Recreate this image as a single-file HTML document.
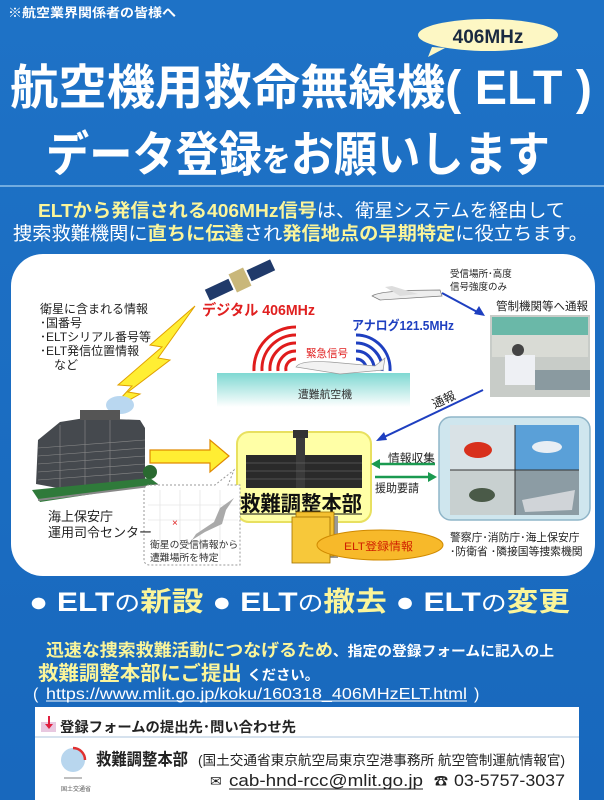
<!DOCTYPE html>
<html><head><meta charset="utf-8"><style>
html,body{margin:0;padding:0;width:604px;height:800px;overflow:hidden;background:#1b6dc1;}
svg{display:block}
text{font-family:"Liberation Sans","Noto Sans CJK JP",sans-serif;}
</style></head><body>
<svg width="604" height="800" viewBox="0 0 604 800" xmlns="http://www.w3.org/2000/svg">
<defs>
<linearGradient id="sea" x1="0" y1="0" x2="0" y2="1"><stop offset="0" stop-color="#7fd8d2"/><stop offset="1" stop-color="#ffffff"/></linearGradient>
<linearGradient id="bg" x1="0" y1="0" x2="0" y2="1"><stop offset="0" stop-color="#1e72c6"/><stop offset="1" stop-color="#1868bd"/></linearGradient>
</defs>
<rect width="604" height="800" fill="url(#bg)"/>
<!-- header -->
<text x="8" y="17" font-size="12.5" font-weight="bold" fill="#fff" textLength="168" lengthAdjust="spacingAndGlyphs">※航空業界関係者の皆様へ</text>
<path d="M432 47 L428 57 L445 48 Z" fill="#fdf7c4"/>
<ellipse cx="488" cy="35" rx="70" ry="16" fill="#fdf7c4"/>
<text x="488" y="43" font-size="19" font-weight="bold" fill="#1a2a40" text-anchor="middle">406MHz</text>
<text x="10" y="104" font-size="48" font-weight="bold" fill="#fff" textLength="582" lengthAdjust="spacingAndGlyphs">航空機用救命無線機( ELT )</text>
<text x="46" y="171" font-size="48" font-weight="bold" fill="#fff" textLength="504" lengthAdjust="spacingAndGlyphs">データ登録<tspan font-size="32">を</tspan>お願いします</text>
<line x1="0" y1="186" x2="604" y2="186" stroke="#8fc0ea" stroke-width="1.5"/>
<text x="38" y="217" font-size="18.5" fill="#fff" textLength="527" lengthAdjust="spacingAndGlyphs"><tspan fill="#fbf59a" font-weight="bold">ELTから発信される406MHz信号</tspan>は、衛星システムを経由して</text>
<text x="13" y="240" font-size="18.5" fill="#fff" textLength="575" lengthAdjust="spacingAndGlyphs">捜索救難機関に<tspan fill="#fbf59a" font-weight="bold">直ちに伝達</tspan>され<tspan fill="#fbf59a" font-weight="bold">発信地点の早期特定</tspan>に役立ちます。</text>
<!-- diagram panel -->
<rect x="11" y="254" width="584" height="322" rx="32" fill="#fff"/>
<text font-size="12" fill="#222">
<tspan x="40" y="313">衛星に含まれる情報</tspan>
<tspan x="40" y="327">･国番号</tspan>
<tspan x="40" y="341">･ELTシリアル番号等</tspan>
<tspan x="40" y="355">･ELT発信位置情報</tspan>
<tspan x="54" y="369">など</tspan>
</text>
<!-- satellite -->
<g transform="rotate(-25 240 280)">
<rect x="204" y="274" width="26" height="12" fill="#203a6a"/>
<rect x="232" y="270" width="16" height="20" fill="#c9b77a"/>
<rect x="250" y="274" width="26" height="12" fill="#203a6a"/>
</g>
<!-- lightning -->
<polygon points="195,306 150,345 162,347 118,385 132,386 108,412 140,394 128,392 170,360 158,358" fill="#ffee33" stroke="#e0a000" stroke-width="1"/>
<ellipse cx="120" cy="405" rx="14" ry="9" fill="#b9d7f0"/>
<text x="202" y="315" font-size="15" font-weight="bold" fill="#e02020" textLength="113" lengthAdjust="spacingAndGlyphs">デジタル 406MHz</text>
<!-- red arcs -->
<g fill="none" stroke="#e01c1c" stroke-width="3">
<path d="M286 371 A10 10 0 0 1 296 359"/>
<path d="M278 371 A18 18 0 0 1 296 351"/>
<path d="M270 371 A26 26 0 0 1 296 343"/>
<path d="M262 371 A34 34 0 0 1 296 335"/>
<path d="M254 371 A42 42 0 0 1 296 327"/>
</g>
<g fill="none" stroke="#1e3fc0" stroke-width="3">
<path d="M366 371 A10 10 0 0 0 356 359"/>
<path d="M374 371 A18 18 0 0 0 356 351"/>
<path d="M382 371 A26 26 0 0 0 356 343"/>
<path d="M390 371 A34 34 0 0 0 356 335"/>
</g>
<text x="352" y="330" font-size="13" font-weight="bold" fill="#1e3fc0" textLength="102" lengthAdjust="spacingAndGlyphs">アナログ121.5MHz</text>
<text x="306" y="357" font-size="11" fill="#e02020" textLength="42" lengthAdjust="spacingAndGlyphs">緊急信号</text>
<rect x="217" y="373" width="193" height="34" fill="url(#sea)"/>
<path d="M296 367 Q300 360 330 362 L375 366 L385 358 L383 370 L340 374 Z" fill="#f2f2f2" stroke="#999" stroke-width="0.7"/>
<text x="298" y="398" font-size="11" fill="#333" textLength="54" lengthAdjust="spacingAndGlyphs">遭難航空機</text>
<!-- top right plane -->
<path d="M372 296 Q380 290 440 290 L442 296 L380 300 Z" fill="#eee" stroke="#777" stroke-width="0.7"/>
<path d="M400 296 L385 287 L392 286 L418 294 Z" fill="#ddd"/>
<text font-size="9.5" fill="#222"><tspan x="450" y="277">受信場所･高度</tspan><tspan x="450" y="290">信号強度のみ</tspan></text>
<line x1="442" y1="293" x2="481" y2="314" stroke="#1e3fc0" stroke-width="2"/>
<polygon points="485,316 474,314 479,306" fill="#1e3fc0"/>
<text x="496" y="310" font-size="11.5" fill="#222" textLength="92" lengthAdjust="spacingAndGlyphs">管制機関等へ通報</text>
<rect x="490" y="315" width="100" height="82" fill="#c8ccc8"/>
<rect x="492" y="317" width="96" height="18" fill="#6ab8a8"/>
<rect x="492" y="335" width="96" height="22" fill="#d9dbd5"/>
<rect x="505" y="355" width="30" height="30" fill="#eef0f4"/>
<circle cx="518" cy="350" r="6" fill="#444"/>
<rect x="535" y="370" width="55" height="20" fill="#8a9aa0"/>
<line x1="483" y1="390" x2="380" y2="439" stroke="#1e3fc0" stroke-width="2"/>
<polygon points="376,441 384,432 387,440" fill="#1e3fc0"/>
<text x="431" y="404" font-size="12" fill="#222" transform="rotate(-25 443 398)">通報</text>
<!-- building left -->
<polygon points="38,440 60,422 85,418 140,420 145,428 145,482 90,494 36,484" fill="#45494e"/>
<rect x="80" y="410" width="40" height="10" fill="#555"/>
<g stroke="#8a8a8a" stroke-width="0.6">
<line x1="38" y1="448" x2="145" y2="440"/><line x1="38" y1="456" x2="145" y2="448"/><line x1="38" y1="464" x2="145" y2="456"/><line x1="38" y1="472" x2="145" y2="464"/><line x1="38" y1="480" x2="145" y2="472"/>
<line x1="60" y1="425" x2="60" y2="488"/><line x1="85" y1="420" x2="85" y2="492"/><line x1="110" y1="420" x2="110" y2="488"/>
</g>
<polygon points="32,490 150,478 158,484 40,502" fill="#2f7a3a"/>
<line x1="38" y1="500" x2="158" y2="485" stroke="#888" stroke-width="2"/>
<circle cx="150" cy="472" r="7" fill="#2a6a30"/>
<!-- yellow arrow -->
<polygon points="150,450 210,450 210,440 229,456 210,472 210,463 150,463" fill="#ffee33" stroke="#e08a00" stroke-width="1.2"/>
<!-- RCC box -->
<rect x="237" y="432" width="134" height="90" rx="12" fill="#ffffa6" stroke="#e8e060" stroke-width="2"/>
<rect x="246" y="455" width="116" height="33" fill="#2a2a2a"/>
<rect x="296" y="432" width="9" height="56" fill="#3a3a3a"/>
<rect x="293" y="430" width="15" height="8" fill="#333"/>
<g stroke="#777" stroke-width="0.5"><line x1="246" y1="463" x2="362" y2="463"/><line x1="246" y1="471" x2="362" y2="471"/><line x1="246" y1="479" x2="362" y2="479"/></g>
<text x="240" y="511" font-size="21" font-weight="bold" fill="#111" textLength="122" lengthAdjust="spacingAndGlyphs">救難調整本部</text>
<line x1="240" y1="514" x2="362" y2="514" stroke="#111" stroke-width="1"/>
<!-- map callout -->
<path d="M150 485 L215 485 L234 470 L228 485 L240 485 L240 565 L150 565 Q144 565 144 559 L144 491 Q144 485 150 485 Z" fill="#fff" stroke="#999" stroke-width="1" stroke-dasharray="2,2"/>
<g stroke="#ddd" stroke-width="0.6"><line x1="160" y1="490" x2="160" y2="560"/><line x1="180" y1="490" x2="180" y2="560"/><line x1="200" y1="490" x2="200" y2="560"/><line x1="220" y1="490" x2="220" y2="560"/><line x1="148" y1="505" x2="238" y2="505"/><line x1="148" y1="520" x2="238" y2="520"/></g>
<path d="M234 498 L226 510 L222 524 L205 532 L192 540 L196 534 L214 522 L220 508 Z" fill="#aaa"/>
<text x="172" y="526" font-size="10" fill="#e02020">×</text>
<text font-size="9.8" fill="#333"><tspan x="150" y="548">衛星の受信情報から</tspan><tspan x="150" y="561">遭難場所を特定</tspan></text>
<text font-size="13" fill="#222"><tspan x="48" y="521">海上保安庁</tspan><tspan x="48" y="537">運用司令センター</tspan></text>
<!-- docs -->
<rect x="300" y="516" width="38" height="42" fill="#999"/>
<rect x="296" y="512" width="38" height="44" fill="#f4c030" stroke="#a07000" stroke-width="0.8"/>
<rect x="292" y="517" width="38" height="46" fill="#f7c83a" stroke="#a07000" stroke-width="0.8"/>
<ellipse cx="380" cy="545" rx="63" ry="15" fill="#f7b92a" stroke="#d08a00" stroke-width="1"/>
<text x="344" y="550" font-size="11" fill="#d02000" textLength="69" lengthAdjust="spacingAndGlyphs">ELT登録情報</text>
<!-- green arrows -->
<text x="388" y="462" font-size="11.5" fill="#222" textLength="47" lengthAdjust="spacingAndGlyphs">情報収集</text>
<line x1="378" y1="464" x2="435" y2="464" stroke="#1a9a50" stroke-width="2.5"/>
<polygon points="371,464 380,459 380,469" fill="#1a9a50"/>
<line x1="375" y1="477" x2="430" y2="477" stroke="#1a9a50" stroke-width="2.5"/>
<polygon points="437,477 428,472 428,482" fill="#1a9a50"/>
<text x="375" y="492" font-size="11.5" fill="#222" textLength="44" lengthAdjust="spacingAndGlyphs">援助要請</text>
<!-- heli panel -->
<rect x="439" y="417" width="151" height="103" rx="12" fill="#cfe6ee" stroke="#8fb5c8" stroke-width="1.5"/>
<rect x="450" y="425" width="65" height="45" fill="#d9e2e6"/>
<rect x="515" y="425" width="64" height="45" fill="#5aa0d8"/>
<rect x="450" y="470" width="65" height="45" fill="#c8d0d0"/>
<rect x="515" y="470" width="64" height="45" fill="#8c9ca4"/>
<ellipse cx="478" cy="450" rx="14" ry="8" fill="#d8301c"/>
<ellipse cx="547" cy="447" rx="15" ry="6" fill="#e8eef4"/>
<ellipse cx="482" cy="495" rx="13" ry="7" fill="#4a5a48"/>
<polygon points="522,500 575,490 572,510 525,512" fill="#d0d4d8"/>
<line x1="515" y1="425" x2="515" y2="515" stroke="#333"/><line x1="450" y1="470" x2="579" y2="470" stroke="#333"/>
<text font-size="10.8" fill="#222"><tspan x="450" y="541">警察庁･消防庁･海上保安庁</tspan><tspan x="450" y="555">･防衛省 ･隣接国等捜索機関</tspan></text>
<!-- bottom -->
<text x="29" y="611" font-size="27" font-weight="bold" fill="#fff" textLength="541" lengthAdjust="spacingAndGlyphs">● ELT<tspan font-weight="normal" font-size="22">の</tspan><tspan fill="#fbf59a">新設</tspan> ● ELT<tspan font-weight="normal" font-size="22">の</tspan><tspan fill="#fbf59a">撤去</tspan> ● ELT<tspan font-weight="normal" font-size="22">の</tspan><tspan fill="#fbf59a">変更</tspan></text>
<text x="46" y="656" font-size="17" font-weight="bold" fill="#fbf59a" textLength="508" lengthAdjust="spacingAndGlyphs">迅速な捜索救難活動につなげるため<tspan fill="#fff" font-size="14">、指定の登録フォームに記入の上</tspan></text>
<text x="38" y="680" font-size="20" font-weight="bold" fill="#fbf59a" textLength="281" lengthAdjust="spacingAndGlyphs">救難調整本部にご提出 <tspan fill="#fff" font-size="14">ください。</tspan></text>
<text x="33" y="699" font-size="16" fill="#fff">(</text>
<text x="46" y="699" font-size="16" fill="#fff" textLength="421" lengthAdjust="spacingAndGlyphs">https://www.mlit.go.jp/koku/160318_406MHzELT.html</text>
<line x1="46" y1="701" x2="467" y2="701" stroke="#fff" stroke-width="1"/>
<text x="474" y="699" font-size="16" fill="#fff">)</text>
<rect x="35" y="707" width="544" height="93" fill="#fff"/>
<line x1="35" y1="737" x2="579" y2="737" stroke="#c8d8e8" stroke-width="1.5"/>
<rect x="41" y="722" width="15" height="10" fill="#e8c8e0"/>
<polygon points="48,716 48,724 45,724 49,729 53,724 50,724 50,716" fill="#e02040"/>
<text x="60" y="732" font-size="14" font-weight="bold" fill="#222" textLength="236" lengthAdjust="spacingAndGlyphs">登録フォームの提出先･問い合わせ先</text>
<circle cx="73" cy="760" r="12" fill="#b8d6ee"/>
<path d="M73 748 A12 12 0 0 1 85 760" fill="none" stroke="#e03030" stroke-width="2.5"/>
<line x1="64" y1="778" x2="82" y2="778" stroke="#aaa" stroke-width="1.5"/>
<text x="61" y="791" font-size="6" fill="#555">国土交通省</text>
<text x="96" y="765" font-size="16.5" font-weight="bold" fill="#222" textLength="92" lengthAdjust="spacingAndGlyphs">救難調整本部</text>
<text x="198" y="765" font-size="13.5" fill="#222" textLength="367" lengthAdjust="spacingAndGlyphs">(国土交通省東京航空局東京空港事務所  航空管制運航情報官)</text>
<text x="210" y="786" font-size="14" fill="#222">✉</text>
<text x="229" y="786" font-size="17" fill="#222" textLength="194" lengthAdjust="spacingAndGlyphs">cab-hnd-rcc@mlit.go.jp</text>
<line x1="229" y1="789" x2="423" y2="789" stroke="#222" stroke-width="1"/>
<text x="434" y="786" font-size="14" fill="#222">☎</text>
<text x="454" y="786" font-size="17" fill="#222" textLength="111" lengthAdjust="spacingAndGlyphs">03-5757-3037</text>
</svg>
</body></html>
